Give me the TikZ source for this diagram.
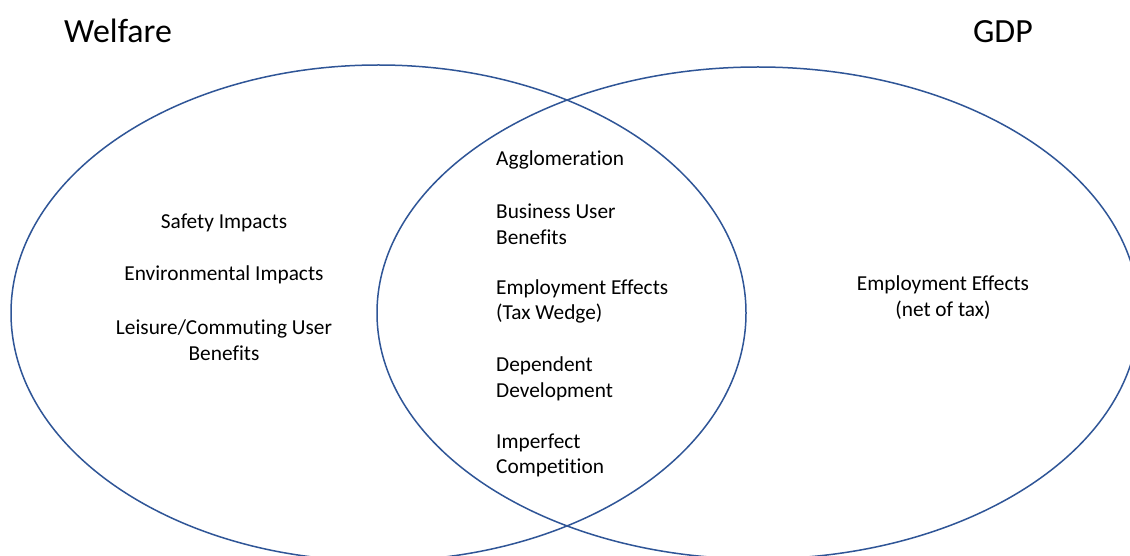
\documentclass[tikz,border=0pt]{standalone}
\usepackage{fontspec}
\setmainfont{Carlito}[Ligatures=NoCommon]
\definecolor{vennblue}{HTML}{2F5597}
\tikzset{
  vennline/.style={draw=vennblue, line width=1.5bp},
  lbl/.style={inner sep=0pt, font=\fontsize{21.4}{25.8}\selectfont, text=black},
  title/.style={inner sep=0pt, font=\fontsize{34}{40}\selectfont, text=black},
}
\begin{document}
\begin{tikzpicture}[x=1bp,y=-1bp]
\useasboundingbox (0,0) rectangle (1130,556);
\clip (0,0) rectangle (1130,556);
\fill[white] (0,0) rectangle (1130,556);
% circles
\draw[vennline] (378.5,313) ellipse [x radius=367.5, y radius=248];
\draw[vennline] (758,313) ellipse [x radius=381, y radius=246];
% titles
\node[title, anchor=base west] (welfare) at (64,43) {Welfare};
\node[title, anchor=base east] (gdp) at (1033,43) {GDP};
% left set
\node[lbl, align=center] (safety) at (224,223) {Safety Impacts};
\node[lbl, align=center] (env) at (224,275) {Environmental Impacts};
\node[lbl, align=center] (leisure) at (224,340) {Leisure/Commuting User\\Benefits};
% intersection
\node[lbl, align=left, anchor=west] (agg) at (496,160) {Agglomeration};
\node[lbl, align=left, anchor=west] (bus) at (496,224) {Business User\\Benefits};
\node[lbl, align=left, anchor=west] (emptw) at (496,301.5) {Employment Effects\\(Tax Wedge)};
\node[lbl, align=left, anchor=west] (dep) at (496,378.5) {Dependent\\Development};
\node[lbl, align=left, anchor=west] (imp) at (496,455.5) {Imperfect\\Competition};
% right set
\node[lbl, align=center] (empnet) at (943,297.5) {Employment Effects\\(net of tax)};
\end{tikzpicture}
\end{document}
